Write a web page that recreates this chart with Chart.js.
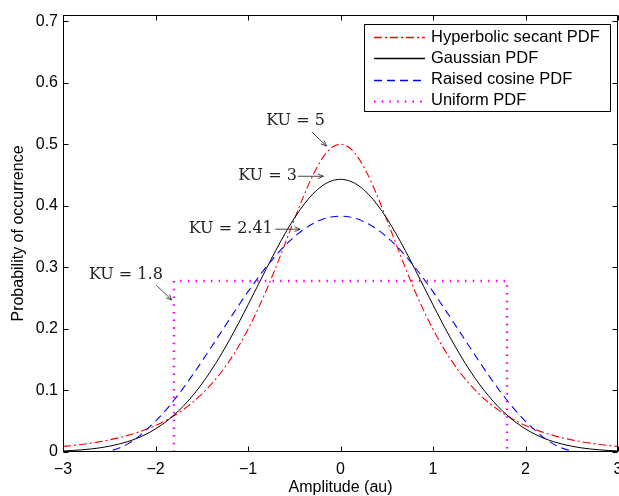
<!DOCTYPE html>
<html><head><meta charset="utf-8">
<script src="https://cdn.jsdelivr.net/npm/chart.js@4.4.1/dist/chart.umd.min.js"></script>
<style>
html,body{margin:0;padding:0;background:#fff;overflow:hidden;width:619px;height:496px}
#wrap{position:relative;width:640px;height:496px}
</style>
</head><body><div id="wrap"><canvas id="c"></canvas></div>
<script>
// ---- data ----
const amplitude = [-3,-2.9,-2.8,-2.7,-2.6,-2.5,-2.4,-2.3,-2.2,-2.1,-2,-1.9,-1.8,-1.7,-1.6,-1.5,-1.4,-1.3,-1.2,-1.1,-1,-0.9,-0.8,-0.7,-0.6,-0.5,-0.4,-0.3,-0.2,-0.1,0,0.1,0.2,0.3,0.4,0.5,0.6,0.7,0.8,0.9,1,1.1,1.2,1.3,1.4,1.5,1.6,1.7,1.8,1.9,2,2.1,2.2,2.3,2.4,2.5,2.6,2.7,2.8,2.9,3];
const hyperbolicSecant = [0.0090,0.0105,0.0123,0.0144,0.0168,0.0197,0.0230,0.0270,0.0315,0.0369,0.0431,0.0504,0.0590,0.0689,0.0805,0.0939,0.1096,0.1276,0.1484,0.1722,0.1993,0.2297,0.2633,0.2998,0.3383,0.3775,0.4153,0.4492,0.4763,0.4939,0.5,0.4939,0.4763,0.4492,0.4153,0.3775,0.3383,0.2998,0.2633,0.2297,0.1993,0.1722,0.1484,0.1276,0.1096,0.0939,0.0805,0.0689,0.0590,0.0504,0.0431,0.0369,0.0315,0.0270,0.0230,0.0197,0.0168,0.0144,0.0123,0.0105,0.0090];
const gaussian = [0.0017,0.0025,0.0035,0.0049,0.0068,0.0094,0.0127,0.0169,0.0223,0.0291,0.0375,0.0477,0.0600,0.0744,0.0912,0.1105,0.1321,0.1561,0.1821,0.2099,0.2390,0.2687,0.2984,0.3274,0.3547,0.3797,0.4013,0.4191,0.4322,0.4403,0.443,0.4403,0.4322,0.4191,0.4013,0.3797,0.3547,0.3274,0.2984,0.2687,0.2390,0.2099,0.1821,0.1561,0.1321,0.1105,0.0912,0.0744,0.0600,0.0477,0.0375,0.0291,0.0223,0.0169,0.0127,0.0094,0.0068,0.0049,0.0035,0.0025,0.0017];
const raisedCosine = [null,null,null,null,0,0.0017,0.0061,0.0132,0.0229,0.0360,0.0499,0.0660,0.0841,0.1038,0.1249,0.1470,0.1698,0.1927,0.2157,0.2383,0.2605,0.2814,0.3010,0.3191,0.3353,0.3495,0.3614,0.3708,0.3777,0.3818,0.3831,0.3818,0.3777,0.3708,0.3614,0.3495,0.3353,0.3191,0.3010,0.2814,0.2605,0.2383,0.2157,0.1927,0.1698,0.1470,0.1249,0.1038,0.0841,0.0660,0.0499,0.0360,0.0229,0.0132,0.0061,0.0017,0,null,null,null,null];
const uniformX = [-1.8,-1.8,1.8,1.8];
const uniformY = [0,0.2778,0.2778,0];
const xTicks = [-3,-2,-1,0,1,2,3];
const yTicks = [0,0.1,0.2,0.3,0.4,0.5,0.6,0.7];
const seriesLabels = ['Hyperbolic secant PDF','Gaussian PDF','Raised cosine PDF','Uniform PDF'];
const seriesColors = ['#ff0000','#000000','#0000ff','#ff00ff'];
const seriesDashes = [[8, 3, 2, 3], [], [8, 5], [1.5, 6.2]];
const seriesWidths = [1.1, 1, 1.1, 2.5];
const kurtosisNotes = [
  {text:'KU = 5',    tx:-0.486, ty:0.538, align:'center', x1:-0.310, y1:0.520, x2:-0.151, y2:0.497},
  {text:'KU = 3',    tx:-0.472, ty:0.448, align:'right',  x1:-0.462, y1:0.448, x2:-0.184, y2:0.448},
  {text:'KU = 2.41', tx:-0.732, ty:0.363, align:'right',  x1:-0.706, y1:0.362, x2:-0.436, y2:0.362},
  {text:'KU = 1.8',  tx:-1.921, ty:0.288, align:'right',  x1:-1.992, y1:0.271, x2:-1.824, y2:0.247}
];

const pts = (xs, ys) => xs.map((x, i) => ({x: x, y: ys[i]}));
const SANS = '"Liberation Sans", Arial, Helvetica, sans-serif';

const framePlugin = {
  id: 'frame',
  afterDatasetsDraw(chart) {
    const {ctx, chartArea: a, scales: {x, y}} = chart;
    ctx.save();
    ctx.strokeStyle = '#000';
    ctx.lineWidth = 1;
    ctx.setLineDash([]);
    const L = Math.round(a.left) + 0.5, R = Math.round(a.right) - 0.5;
    const T = Math.round(a.top) + 0.5, B = Math.round(a.bottom) - 0.5;
    ctx.strokeRect(L, T, R - L, B - T);
    ctx.beginPath();
    xTicks.forEach(v => {
      const px = Math.round(x.getPixelForValue(v)) + 0.5;
      ctx.moveTo(px, B); ctx.lineTo(px, B - 5);
      ctx.moveTo(px, T); ctx.lineTo(px, T + 5);
    });
    yTicks.forEach(v => {
      const py = Math.round(y.getPixelForValue(v)) + 0.5;
      ctx.moveTo(L, py); ctx.lineTo(L + 5, py);
      ctx.moveTo(R, py); ctx.lineTo(R - 5, py);
    });
    ctx.stroke();

    // kurtosis annotations
    ctx.font = '16px "DejaVu Serif", serif';
    ctx.fillStyle = '#222';
    ctx.strokeStyle = '#333';
    ctx.lineWidth = 0.9;
    ctx.textBaseline = 'middle';
    kurtosisNotes.forEach(n => {
      ctx.textAlign = n.align;
      ctx.fillText(n.text, x.getPixelForValue(n.tx), y.getPixelForValue(n.ty));
      const ax = x.getPixelForValue(n.x1), ay = y.getPixelForValue(n.y1);
      const bx = x.getPixelForValue(n.x2), by = y.getPixelForValue(n.y2);
      const ang = Math.atan2(by - ay, bx - ax);
      ctx.beginPath();
      ctx.moveTo(ax, ay); ctx.lineTo(bx, by);
      ctx.moveTo(bx - 6 * Math.cos(ang - 0.4), by - 6 * Math.sin(ang - 0.4));
      ctx.lineTo(bx, by);
      ctx.lineTo(bx - 6 * Math.cos(ang + 0.4), by - 6 * Math.sin(ang + 0.4));
      ctx.stroke();
    });
    ctx.restore();
  },
  afterDraw(chart) {
    const {ctx} = chart;
    ctx.save();
    const bx = 364.5, by = 24.5, bw = 246, bh = 87;
    ctx.fillStyle = '#fff';
    ctx.fillRect(bx, by, bw, bh);
    ctx.strokeStyle = '#000';
    ctx.lineWidth = 1;
    ctx.setLineDash([]);
    ctx.strokeRect(bx, by, bw, bh);
    ctx.font = '16.5px ' + SANS;
    ctx.textBaseline = 'middle';
    ctx.textAlign = 'left';
    const rows = [37, 58, 79.5, 100.5];
    seriesLabels.forEach((label, i) => {
      const yy = rows[i];
      ctx.strokeStyle = seriesColors[i];
      ctx.lineWidth = i === 3 ? 2.5 : 1.3;
      ctx.setLineDash(seriesDashes[i]);
      ctx.beginPath();
      ctx.moveTo(374, Math.round(yy) + 0.5);
      ctx.lineTo(425, Math.round(yy) + 0.5);
      ctx.stroke();
      ctx.fillStyle = '#000';
      ctx.fillText(label, 431, yy);
    });
    ctx.restore();
  }
};

new Chart(document.getElementById('c'), {
  type: 'line',
  data: {
    datasets: [
      {label: seriesLabels[0], data: pts(amplitude, hyperbolicSecant), borderColor: seriesColors[0], borderWidth: seriesWidths[0], borderDash: seriesDashes[0], order: 4},
      {label: seriesLabels[1], data: pts(amplitude, gaussian), borderColor: seriesColors[1], borderWidth: seriesWidths[1], order: 3},
      {label: seriesLabels[2], data: pts(amplitude, raisedCosine), borderColor: seriesColors[2], borderWidth: seriesWidths[2], borderDash: seriesDashes[2], order: 2},
      {label: seriesLabels[3], data: pts(uniformX, uniformY), borderColor: seriesColors[3], borderWidth: seriesWidths[3], borderDash: seriesDashes[3], order: 1, cubicInterpolationMode: 'default', tension: 0}
    ]
  },
  options: {
    responsive: true,
    maintainAspectRatio: false,
    animation: false,
    events: [],
    devicePixelRatio: 1,
    layout: {padding: {top: 15, right: 22, left: 0, bottom: 0}},
    elements: {point: {radius: 0}, line: {cubicInterpolationMode: 'monotone', fill: false}},
    plugins: {legend: {display: false}, tooltip: {enabled: false}},
    scales: {
      x: {
        type: 'linear', min: -3, max: 3,
        afterBuildTicks: s => { s.ticks = xTicks.map(v => ({value: v})); },
        afterFit: s => { s.height = 44; },
        grid: {display: false, drawTicks: false},
        border: {display: false},
        ticks: {color: '#000', font: {family: SANS, size: 16}, padding: 8, maxRotation: 0,
                callback: v => String(v).replace('-', '\u2212')},
        title: {display: true, text: 'Amplitude (au)', color: '#000', font: {family: SANS, size: 16, lineHeight: 1}, padding: {top: 0, bottom: 0}}
      },
      y: {
        type: 'linear', min: 0, max: 0.71,
        afterBuildTicks: s => { s.ticks = yTicks.map(v => ({value: v})); },
        afterFit: s => { s.width = 63; },
        grid: {display: false, drawTicks: false},
        border: {display: false},
        ticks: {color: '#000', font: {family: SANS, size: 16}, padding: 5, callback: v => String(v)},
        title: {display: true, text: 'Probability of occurrence', color: '#000', font: {family: SANS, size: 16, lineHeight: 1}, padding: {top: 11, bottom: 0}}
      }
    }
  },
  plugins: [framePlugin]
});
</script>
</body></html>
